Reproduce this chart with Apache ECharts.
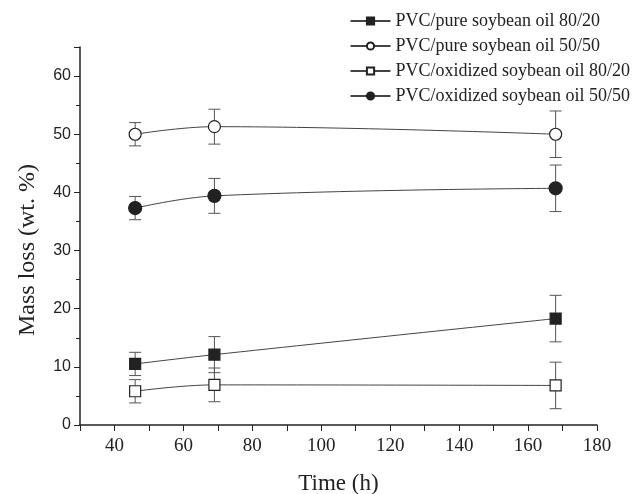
<!DOCTYPE html>
<html><head><meta charset="utf-8">
<script src="https://cdn.jsdelivr.net/npm/echarts@6/dist/echarts.min.js"></script>
<style>html,body{margin:0;padding:0;background:#fff}#c{width:639px;height:494px}</style>
</head><body><div id="c"></div>
<script>
const times = [46, 69, 168];
const seriesNames = [
  'PVC/pure soybean oil 80/20',
  'PVC/pure soybean oil 50/50',
  'PVC/oxidized soybean oil 80/20',
  'PVC/oxidized soybean oil 50/50'
];
const pure8020 = [10.5, 12.1, 18.3];
const pure5050 = [50.0, 51.3, 50.0];
const oxid8020 = [5.8, 6.9, 6.8];
const oxid5050 = [37.3, 39.4, 40.7];
const pure8020Err = [2.0, 3.1, 4.0];
const pure5050Err = [2.0, 3.0, 4.0];
const oxid8020Err = [2.0, 2.9, 4.0];
const oxid5050Err = [2.0, 3.0, 4.0];

const values = [pure8020, pure5050, oxid8020, oxid5050];
const errs = [pure8020Err, pure5050Err, oxid8020Err, oxid5050Err];
const symbols = ['rect', 'circle', 'rect', 'circle'];
const fills = ['#222', '#fff', '#fff', '#222'];
const sizes = [11, 12, 11, 13];

const chart = echarts.init(document.getElementById('c'));
const serif = '"Liberation Serif", "Times New Roman", serif';
const sans = '"Liberation Sans", Arial, sans-serif';

const series = [];
values.forEach((vals, i) => {
  series.push({
    type: 'custom',
    silent: true,
    z: 1,
    data: times.map((t, j) => [t, vals[j] - errs[i][j], vals[j] + errs[i][j]]),
    renderItem: function (params, api) {
      const lo = api.coord([api.value(0), api.value(1)]);
      const hi = api.coord([api.value(0), api.value(2)]);
      const w = 6;
      const st = { stroke: '#555', lineWidth: 1 };
      return { type: 'group', children: [
        { type: 'line', shape: { x1: lo[0], y1: lo[1], x2: hi[0], y2: hi[1] }, style: st },
        { type: 'line', shape: { x1: lo[0] - w, y1: lo[1], x2: lo[0] + w, y2: lo[1] }, style: st },
        { type: 'line', shape: { x1: hi[0] - w, y1: hi[1], x2: hi[0] + w, y2: hi[1] }, style: st }
      ]};
    }
  });
  series.push({
    name: seriesNames[i],
    type: 'line',
    z: 3,
    smooth: 0.4,
    data: times.map((t, j) => [t, vals[j]]),
    symbol: symbols[i],
    symbolSize: sizes[i],
    showAllSymbol: true,
    lineStyle: { color: '#444', width: 1 },
    itemStyle: { color: fills[i], borderColor: '#222', borderWidth: 1.2 }
  });
});

chart.setOption({
  backgroundColor: '#fff',
  animation: false,
  grid: { left: 80, right: 42, top: 47, bottom: 69, containLabel: false, outerBoundsMode: 'none' },
  legend: {
    orient: 'vertical',
    right: 4,
    top: 7,
    itemGap: 7,
    itemWidth: 40,
    itemHeight: 9,
    data: seriesNames,
    textStyle: { fontFamily: serif, fontSize: 18, color: '#222' }
  },
  xAxis: {
    type: 'value',
    min: 30, max: 180, interval: 10,
    name: 'Time (h)',
    nameLocation: 'middle',
    nameGap: 47,
    nameTextStyle: { fontFamily: serif, fontSize: 23, color: '#222' },
    axisLine: { show: true, lineStyle: { color: '#222', width: 1.5 } },
    axisTick: { show: true, inside: false, length: 6, lineStyle: { color: '#222' } },
    axisLabel: {
      fontFamily: serif, fontSize: 19, color: '#222', margin: 12,
      formatter: v => (v % 20 === 0 ? String(v) : '')
    },
    splitLine: { show: false }
  },
  yAxis: {
    type: 'value',
    min: 0, max: 65, interval: 10,
    name: 'Mass loss (wt. %)',
    nameLocation: 'middle',
    nameGap: 40,
    nameTextStyle: { fontFamily: serif, fontSize: 24, color: '#222', padding: [0, 28, 0, 0] },
    axisLine: { show: true, lineStyle: { color: '#222', width: 1.5 } },
    axisTick: { show: true, inside: false, length: 6, lineStyle: { color: '#222' } },
    minorTick: { show: true, splitNumber: 2, length: 4, lineStyle: { color: '#222' } },
    axisLabel: {
      fontFamily: sans, fontSize: 16, color: '#222', margin: 9,
      showMaxLabel: false
    },
    splitLine: { show: false }
  },
  series: series
});
</script>
</body></html>
